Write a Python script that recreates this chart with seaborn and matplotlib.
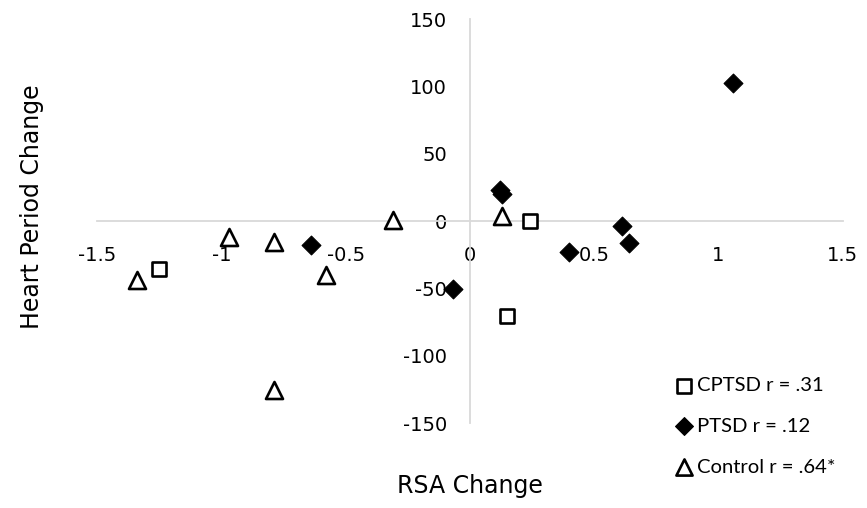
import numpy as np
import pandas as pd
import matplotlib
matplotlib.use('Agg')
import matplotlib.pyplot as plt
import seaborn as sns

# RSA change (x) and heart period change (y) per group
cptsd_x = [-1.25, 0.24, 0.15]
cptsd_y = [-35.6, 0.0, -70.4]

ptsd_x = [-0.64, -0.07, 0.12, 0.13, 0.40, 0.61, 0.64, 1.06]
ptsd_y = [-17.5, -50.5, 23.4, 20.3, -23.2, -3.4, -15.8, 102.4]

control_x = [-1.34, -0.97, -0.79, -0.58, -0.31, -0.79, 0.13]
control_y = [-43.6, -11.8, -15.5, -40.3, 1.1, -125.0, 3.6]

labels = ['CPTSD r = .31', 'PTSD r = .12', 'Control r = .64*']
x_ticks = [-1.5, -1, -0.5, 0, 0.5, 1, 1.5]
y_ticks = [-150, -100, -50, 0, 50, 100, 150]

sns.set_style('white')
plt.rcParams['font.family'] = ['DejaVu Sans']
plt.rcParams['axes.unicode_minus'] = False
plt.rcParams['text.color'] = 'black'
plt.rcParams['axes.labelcolor'] = 'black'

fig = plt.figure(figsize=(8.67, 5.08), dpi=100)
ax = fig.add_axes([0.112, 0.167, 0.860, 0.795])

df_c = pd.DataFrame({'x': cptsd_x, 'y': cptsd_y})
df_p = pd.DataFrame({'x': ptsd_x, 'y': ptsd_y})
df_k = pd.DataFrame({'x': control_x, 'y': control_y})

sns.scatterplot(data=df_c, x='x', y='y', marker='s', s=110, facecolor='white',
                edgecolor='black', linewidth=1.9, label=labels[0], ax=ax, zorder=3)
sns.scatterplot(data=df_p, x='x', y='y', marker='D', s=92, color='black',
                edgecolor='black', linewidth=0.8, label=labels[1], ax=ax, zorder=3)
sns.scatterplot(data=df_k, x='x', y='y', marker='^', s=150, facecolor='white',
                edgecolor='black', linewidth=1.9, label=labels[2], ax=ax, zorder=3)

ax.set_xlim(-1.5, 1.5)
ax.set_ylim(-150, 150)
ax.set_xticks(x_ticks)
ax.set_xticklabels(['-1.5', '-1', '-0.5', '0', '0.5', '1', '1.5'])
ax.set_yticks(y_ticks)

# axes cross at zero, light grey lines
for side in ['top', 'right']:
    ax.spines[side].set_visible(False)
ax.spines['left'].set_position(('data', 0))
ax.spines['bottom'].set_position(('data', 0))
ax.spines['left'].set_color('#d9d9d9')
ax.spines['bottom'].set_color('#d9d9d9')
ax.spines['left'].set_linewidth(1.3)
ax.spines['bottom'].set_linewidth(1.3)
ax.tick_params(axis='x', length=0, pad=17.5, labelsize=14, colors='black')
ax.tick_params(axis='y', length=0, pad=16.5, labelsize=14, colors='black')

ax.set_xlabel('RSA Change', fontsize=17)
ax.set_ylabel('Heart Period Change', fontsize=17)
ax.xaxis.set_label_coords(0.5, -0.125)
ax.yaxis.set_label_coords(-0.071, 0.536)

leg = ax.legend(loc='center left', bbox_to_anchor=(0.7696, -0.0074), frameon=False,
                fontsize=14.6, handlelength=1.3, handletextpad=0.0, labelspacing=1.17,
                markerscale=0.95, borderaxespad=0, borderpad=0)
for t in leg.get_texts():
    t.set_family(['Lato', 'DejaVu Sans'])

fig.savefig('out.png', dpi=100)
